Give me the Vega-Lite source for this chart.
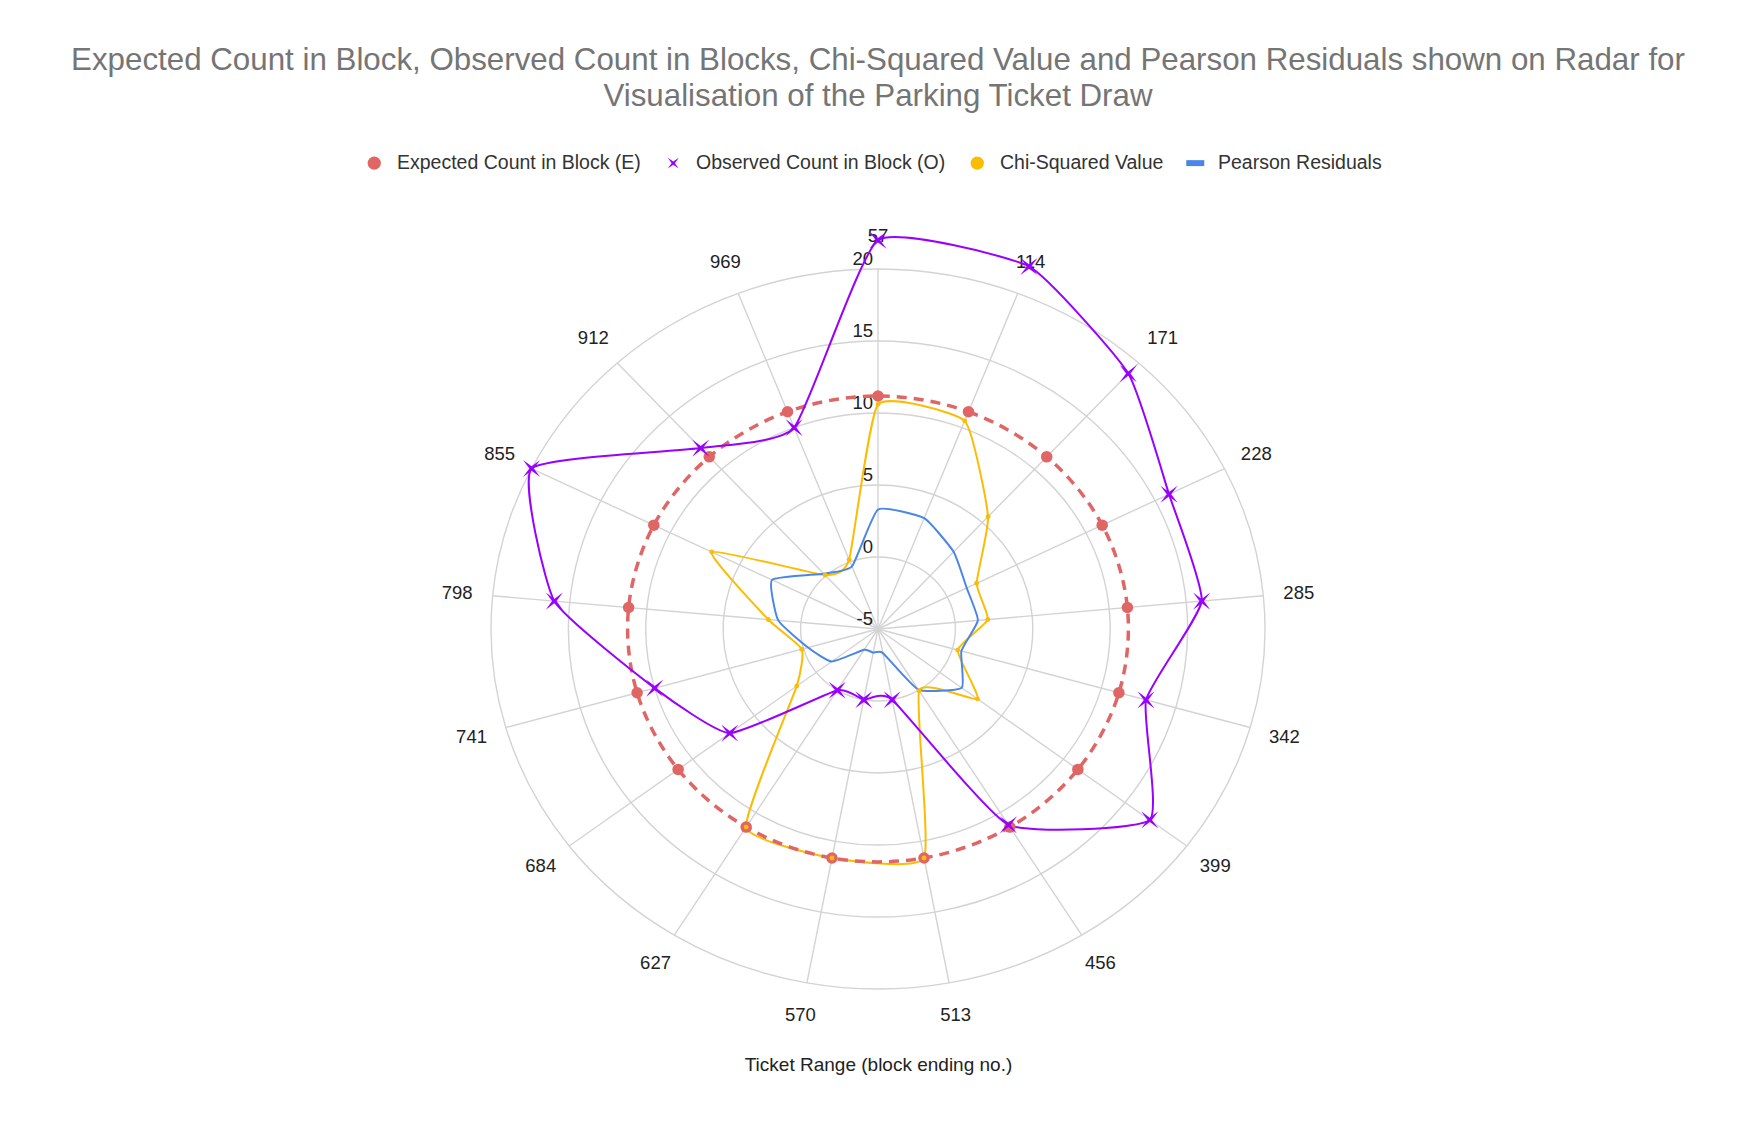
{
  "$schema": "https://vega.github.io/schema/vega-lite/v6.json",
  "autosize": {"type": "none"},
  "width": 774,
  "height": 720,
  "padding": {"left": 491, "top": 269, "right": 493, "bottom": 157},
  "background": "white",
  "config": {"view": {"stroke": null}, "font": "Liberation Sans"},
  "title": {
    "text": ["Expected Count in Block, Observed Count in Blocks, Chi-Squared Value and Pearson Residuals shown on Radar for", "Visualisation of the Parking Ticket Draw"],
    "frame": "group",
    "anchor": "middle",
    "font": "Liberation Sans",
    "fontSize": 31.3,
    "fontWeight": "normal",
    "color": "#757575",
    "lineHeight": 36,
    "offset": 41
  },
  "datasets": {
    "blocks": [
      {"block": "57", "idx": 0, "E": 11.18, "O": 22, "chi": 10.6, "pearson": 3.3},
      {"block": "114", "idx": 1, "E": 11.18, "O": 22, "chi": 10.5, "pearson": 3.25},
      {"block": "171", "idx": 2, "E": 11.18, "O": 19, "chi": 5.55, "pearson": 2.25},
      {"block": "228", "idx": 3, "E": 11.18, "O": 16, "chi": 2.12, "pearson": 1.4},
      {"block": "285", "idx": 4, "E": 11.18, "O": 16, "chi": 2.12, "pearson": 1.48},
      {"block": "342", "idx": 5, "E": 11.18, "O": 13, "chi": 0.35, "pearson": 0.6},
      {"block": "399", "idx": 6, "E": 11.18, "O": 17, "chi": 3.05, "pearson": 1.78},
      {"block": "456", "idx": 7, "E": 11.18, "O": 11, "chi": 0.04, "pearson": -0.04},
      {"block": "513", "idx": 8, "E": 11.18, "O": 0, "chi": 11.18, "pearson": -3.3},
      {"block": "570", "idx": 9, "E": 11.18, "O": 0, "chi": 11.18, "pearson": -3.33},
      {"block": "627", "idx": 10, "E": 11.18, "O": 0, "chi": 11.18, "pearson": -3.3},
      {"block": "684", "idx": 11, "E": 11.18, "O": 7, "chi": 1.58, "pearson": -1.25},
      {"block": "741", "idx": 12, "E": 11.18, "O": 10, "chi": 0.12, "pearson": -0.3},
      {"block": "798", "idx": 13, "E": 11.18, "O": 16, "chi": 2.12, "pearson": 1.47},
      {"block": "855", "idx": 14, "E": 11.18, "O": 20, "chi": 7.0, "pearson": 2.65},
      {"block": "912", "idx": 15, "E": 11.18, "O": 12, "chi": 0.08, "pearson": 0.2},
      {"block": "969", "idx": 16, "E": 11.18, "O": 10, "chi": 0.17, "pearson": -0.34}
    ]
  },
  "encoding": {
    "x": {
      "field": "px",
      "type": "quantitative",
      "scale": {"domain": [-25, 25], "nice": false, "zero": false},
      "axis": {
        "title": "Ticket Range (block ending no.)",
        "labels": false,
        "ticks": false,
        "domain": false,
        "grid": false,
        "titlePadding": 66,
        "titleFont": "Liberation Sans",
        "titleFontSize": 19,
        "titleFontWeight": "normal",
        "titleColor": "#222222"
      }
    },
    "y": {
      "field": "py",
      "type": "quantitative",
      "scale": {"domain": [-25, 25], "nice": false, "zero": false},
      "axis": null
    }
  },
  "layer": [
    {
      "data": {
        "values": [
          {"level": 0, "idx": [0, 1, 2, 3, 4, 5, 6, 7, 8, 9, 10, 11, 12, 13, 14, 15, 16]},
          {"level": 5, "idx": [0, 1, 2, 3, 4, 5, 6, 7, 8, 9, 10, 11, 12, 13, 14, 15, 16]},
          {"level": 10, "idx": [0, 1, 2, 3, 4, 5, 6, 7, 8, 9, 10, 11, 12, 13, 14, 15, 16]},
          {"level": 15, "idx": [0, 1, 2, 3, 4, 5, 6, 7, 8, 9, 10, 11, 12, 13, 14, 15, 16]},
          {"level": 20, "idx": [0, 1, 2, 3, 4, 5, 6, 7, 8, 9, 10, 11, 12, 13, 14, 15, 16]}
        ]
      },
      "transform": [
        {"flatten": ["idx"]},
        {"calculate": "datum.idx * 2 * PI / 17", "as": "a"},
        {"calculate": "(datum.level + 5) * sin(datum.a)", "as": "px"},
        {"calculate": "(datum.level + 5) * cos(datum.a)", "as": "py"}
      ],
      "mark": {"type": "line", "interpolate": "cardinal-closed", "color": "#d3d3d3", "strokeWidth": 1.4},
      "encoding": {
        "detail": {"field": "level", "type": "nominal"},
        "order": {"field": "idx", "type": "quantitative"}
      }
    },
    {
      "data": {"name": "blocks"},
      "transform": [
        {"calculate": "datum.idx * 2 * PI / 17", "as": "a"},
        {"calculate": "25 * sin(datum.a)", "as": "px"},
        {"calculate": "25 * cos(datum.a)", "as": "py"}
      ],
      "mark": {"type": "rule", "color": "#d3d3d3", "strokeWidth": 1.4},
      "encoding": {
        "x2": {"datum": 0},
        "y2": {"datum": 0}
      }
    },
    {
      "data": {"values": [{"level": -5}, {"level": 0}, {"level": 5}, {"level": 10}, {"level": 15}, {"level": 20}]},
      "transform": [
        {"calculate": "0", "as": "px"},
        {"calculate": "datum.level + 5", "as": "py"}
      ],
      "mark": {"type": "text", "align": "right", "baseline": "alphabetic", "dx": -5, "dy": -4.5, "fontSize": 18.5, "color": "#222222"},
      "encoding": {
        "text": {"field": "level", "type": "nominal"}
      }
    },
    {
      "data": {"name": "blocks"},
      "transform": [
        {"calculate": "datum.idx * 2 * PI / 17", "as": "a"},
        {"calculate": "27.3 * sin(datum.a)", "as": "px"},
        {"calculate": "27.3 * cos(datum.a)", "as": "py"}
      ],
      "mark": {"type": "text", "align": "center", "baseline": "middle", "fontSize": 18.5, "color": "#222222"},
      "encoding": {
        "text": {"field": "block", "type": "nominal"}
      }
    },
    {
      "data": {"name": "blocks"},
      "transform": [
        {"calculate": "datum.idx * 2 * PI / 17", "as": "a"},
        {"calculate": "(datum.chi + 5) * sin(datum.a)", "as": "px"},
        {"calculate": "(datum.chi + 5) * cos(datum.a)", "as": "py"}
      ],
      "mark": {"type": "line", "interpolate": "cardinal-closed", "tension": 0.55, "color": "#fbbc04", "strokeWidth": 2},
      "encoding": {"order": {"field": "idx", "type": "quantitative"}}
    },
    {
      "data": {"name": "blocks"},
      "transform": [
        {"calculate": "datum.idx * 2 * PI / 17", "as": "a"},
        {"calculate": "(datum.pearson + 5) * sin(datum.a)", "as": "px"},
        {"calculate": "(datum.pearson + 5) * cos(datum.a)", "as": "py"}
      ],
      "mark": {"type": "line", "interpolate": "cardinal-closed", "tension": 0.55, "color": "#4a86e8", "strokeWidth": 2},
      "encoding": {"order": {"field": "idx", "type": "quantitative"}}
    },
    {
      "data": {"name": "blocks"},
      "transform": [
        {"calculate": "datum.idx * 2 * PI / 17", "as": "a"},
        {"calculate": "(datum.E + 5) * sin(datum.a)", "as": "px"},
        {"calculate": "(datum.E + 5) * cos(datum.a)", "as": "py"}
      ],
      "mark": {"type": "line", "interpolate": "cardinal-closed", "color": "#e06666", "strokeWidth": 3.5, "strokeDash": [10, 7]},
      "encoding": {"order": {"field": "idx", "type": "quantitative"}}
    },
    {
      "data": {"name": "blocks"},
      "transform": [
        {"calculate": "datum.idx * 2 * PI / 17", "as": "a"},
        {"calculate": "(datum.O + 5) * sin(datum.a)", "as": "px"},
        {"calculate": "(datum.O + 5) * cos(datum.a)", "as": "py"}
      ],
      "mark": {"type": "line", "interpolate": "cardinal-closed", "tension": 0.55, "color": "#9900ff", "strokeWidth": 2},
      "encoding": {"order": {"field": "idx", "type": "quantitative"}}
    },
    {
      "data": {"name": "blocks"},
      "transform": [
        {"calculate": "datum.idx * 2 * PI / 17", "as": "a"},
        {"calculate": "(datum.E + 5) * sin(datum.a)", "as": "px"},
        {"calculate": "(datum.E + 5) * cos(datum.a)", "as": "py"}
      ],
      "mark": {"type": "point", "shape": "circle", "filled": true, "opacity": 1, "strokeWidth": 0, "size": 133, "color": "#e06666"},
      "encoding": {}
    },
    {
      "data": {"name": "blocks"},
      "transform": [
        {"calculate": "datum.idx * 2 * PI / 17", "as": "a"},
        {"calculate": "(datum.O + 5) * sin(datum.a)", "as": "px"},
        {"calculate": "(datum.O + 5) * cos(datum.a)", "as": "py"}
      ],
      "mark": {"type": "point", "shape": "M0,-0.18L0.7,-0.7L0.18,0L0.7,0.7L0,0.18L-0.7,0.7L-0.18,0L-0.7,-0.7Z", "filled": true, "opacity": 1, "strokeWidth": 0, "size": 600, "color": "#9900ff"},
      "encoding": {}
    },
    {
      "data": {"name": "blocks"},
      "transform": [
        {"calculate": "datum.idx * 2 * PI / 17", "as": "a"},
        {"calculate": "(datum.chi + 5) * sin(datum.a)", "as": "px"},
        {"calculate": "(datum.chi + 5) * cos(datum.a)", "as": "py"}
      ],
      "mark": {"type": "point", "shape": "circle", "filled": true, "opacity": 1, "strokeWidth": 0, "size": 24, "color": "#fbbc04"},
      "encoding": {}
    },
    {
      "data": {"values": [{"series": "E"}, {"series": "O"}, {"series": "chi"}, {"series": "pearson"}]},
      "transform": [{"filter": "false"}],
      "mark": {"type": "point", "filled": true, "opacity": 1, "strokeWidth": 0, "size": 175},
      "encoding": {
        "color": {
          "field": "series",
          "type": "nominal",
          "scale": {"domain": ["E", "O", "chi", "pearson"], "range": ["#e06666", "#9900ff", "#fbbc04", "#4a86e8"]},
          "legend": {
            "title": null,
            "orient": "none",
            "legendX": -126.5,
            "legendY": -116,
            "direction": "horizontal",
            "columns": 4,
            "labelFont": "Liberation Sans",
            "labelFontSize": 19.5,
            "labelColor": "#333333",
            "labelLimit": 400,
            "labelOffset": 13,
            "columnPadding": 22,
            "symbolSize": 175,
            "symbolStrokeWidth": 0,
            "labelExpr": "datum.label == 'E' ? 'Expected Count in Block (E)' : datum.label == 'O' ? 'Observed Count in Block (O)' : datum.label == 'chi' ? 'Chi-Squared Value' : 'Pearson Residuals'"
          }
        },
        "shape": {
          "field": "series",
          "type": "nominal",
          "scale": {
            "domain": ["E", "O", "chi", "pearson"],
            "range": ["circle", "M0,-0.25L0.83,-0.83L0.25,0L0.83,0.83L0,0.25L-0.83,0.83L-0.25,0L-0.83,-0.83Z", "circle", "M-1.36,-0.45H1.36V0.45H-1.36Z"]
          }
        }
      }
    }
  ]
}
